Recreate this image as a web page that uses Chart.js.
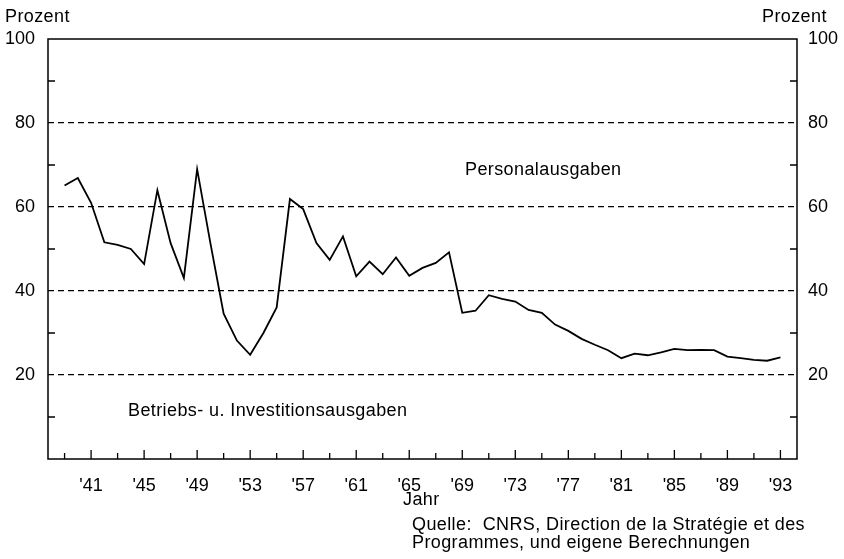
<!DOCTYPE html>
<html>
<head>
<meta charset="utf-8">
<script src="https://cdn.jsdelivr.net/npm/chart.js@4.4.1/dist/chart.umd.min.js"></script>
<style>
  body { margin: 0; background: #fff; }
  canvas { display: block; }
</style>
</head>
<body>
<canvas id="linechart" width="844" height="559"></canvas>
<script>
// Anteil der Personalausgaben am CNRS-Budget (Prozent), 1939-1993
var years = [1939, 1940, 1941, 1942, 1943, 1944, 1945, 1946, 1947, 1948,
             1949, 1950, 1951, 1952, 1953, 1954, 1955, 1956, 1957, 1958,
             1959, 1960, 1961, 1962, 1963, 1964, 1965, 1966, 1967, 1968,
             1969, 1970, 1971, 1972, 1973, 1974, 1975, 1976, 1977, 1978,
             1979, 1980, 1981, 1982, 1983, 1984, 1985, 1986, 1987, 1988,
             1989, 1990, 1991, 1992, 1993];
var personal = [65.1, 66.9, 61.0, 51.6, 51.0, 50.0, 46.4, 64.0, 51.4, 43.1,
                69.0, 51.4, 34.6, 28.2, 24.8, 30.0, 36.1, 61.9, 59.5, 51.4,
                47.4, 53.0, 43.5, 47.0, 44.0, 48.0, 43.6, 45.5, 46.7, 49.2,
                34.8, 35.3, 39.0, 38.1, 37.5, 35.5, 34.8, 32.0, 30.5, 28.6,
                27.2, 25.9, 24.0, 25.1, 24.7, 25.4, 26.2, 25.9, 26.0, 25.9,
                24.4, 24.0, 23.6, 23.4, 24.2];

var labelYears = [1941, 1945, 1949, 1953, 1957, 1961, 1965, 1969, 1973, 1977, 1981, 1985, 1989, 1993];
var xTickLabels = ["'41", "'45", "'49", "'53", "'57", "'61", "'65", "'69", "'73", "'77", "'81", "'85", "'89", "'93"];
var markYears = [1939, 1941, 1943, 1945, 1947, 1949, 1951, 1953, 1955, 1957, 1959, 1961, 1963, 1965,
                 1967, 1969, 1971, 1973, 1975, 1977, 1979, 1981, 1983, 1985, 1987, 1989, 1991, 1993];
var yTicks = [0, 20, 40, 60, 80, 100];
var yMinorTicks = [10, 30, 50, 70, 90];

var FONT = '"Liberation Sans", Arial, Helvetica, sans-serif';
Chart.defaults.font.family = FONT;
Chart.defaults.font.size = 18;
Chart.defaults.color = '#000';

// Rahmen, Tickmarken nach innen und Beschriftungen
var frame = {
  id: 'frame',
  afterDraw: function(chart) {
    var ctx = chart.ctx;
    var a = chart.chartArea;
    var xs = chart.scales.x;
    var ys = chart.scales.y;
    ctx.save();
    ctx.strokeStyle = '#000';
    ctx.lineWidth = 1.5;
    ctx.strokeRect(a.left, a.top, a.right - a.left, a.bottom - a.top);

    ctx.beginPath();
    markYears.forEach(function(v) {
      var px = xs.getPixelForValue(v);
      var len = labelYears.indexOf(v) >= 0 ? 9 : 6;
      ctx.moveTo(px, a.bottom);
      ctx.lineTo(px, a.bottom - len);
    });
    yMinorTicks.forEach(function(v) {
      var py = ys.getPixelForValue(v);
      ctx.moveTo(a.left, py);
      ctx.lineTo(a.left + 7, py);
      ctx.moveTo(a.right, py);
      ctx.lineTo(a.right - 7, py);
    });
    ctx.lineWidth = 1.3;
    ctx.stroke();

    ctx.fillStyle = '#000';
    ctx.font = '18px ' + FONT;
    ctx.letterSpacing = '0.4px';
    ctx.textAlign = 'left';
    ctx.textBaseline = 'alphabetic';
    ctx.fillText('Prozent', 5, 22);
    ctx.fillText('Prozent', 762, 22);
    ctx.fillText('Personalausgaben', 465, 175);
    ctx.fillText('Betriebs- u. Investitionsausgaben', 128, 416);
    ctx.fillText('Jahr', 403, 505);
    ctx.fillText('Quelle:  CNRS, Direction de la Stratégie et des', 412, 530);
    ctx.fillText('Programmes, und eigene Berechnungen', 412, 548);
    ctx.restore();
  }
};

new Chart(document.getElementById("linechart"), {
  type: 'line',
  data: {
    datasets: [{
      label: 'Personalausgaben',
      data: years.map(function(y, i) { return { x: y, y: personal[i] }; }),
      borderColor: '#000',
      borderWidth: 1.8,
      pointRadius: 0,
      tension: 0,
      fill: false
    }]
  },
  options: {
    responsive: false,
    animation: false,
    layout: { padding: { top: 39, left: 0, right: 0, bottom: 0 } },
    plugins: {
      legend: { display: false },
      tooltip: { enabled: false }
    },
    scales: {
      x: {
        type: 'linear',
        min: 1937.75,
        max: 1994.25,
        afterBuildTicks: function(s) {
          s.ticks = labelYears.map(function(v) { return { value: v }; });
        },
        afterFit: function(s) { s.height = 100; },
        ticks: {
          padding: 8,
          autoSkip: false,
          maxRotation: 0,
          callback: function(v) { return xTickLabels[labelYears.indexOf(v)]; }
        },
        grid: { display: false },
        border: { display: false }
      },
      y: {
        position: 'left',
        min: 0,
        max: 100,
        afterBuildTicks: function(s) {
          s.ticks = yTicks.map(function(v) { return { value: v }; });
        },
        afterFit: function(s) { s.width = 48; },
        ticks: {
          padding: 13,
          callback: function(v) { return v === 0 ? '' : v; }
        },
        grid: {
          drawTicks: false,
          lineWidth: 1.2,
          color: function(c) {
            var v = c.tick ? c.tick.value : 0;
            return (v > 0 && v < 100) ? '#000' : 'rgba(0,0,0,0)';
          }
        },
        border: { display: false, dash: [6, 4] }
      },
      y2: {
        position: 'right',
        min: 0,
        max: 100,
        afterBuildTicks: function(s) {
          s.ticks = yTicks.map(function(v) { return { value: v }; });
        },
        afterFit: function(s) { s.width = 47; },
        ticks: {
          padding: 11,
          callback: function(v) { return v === 0 ? '' : v; }
        },
        grid: { display: false, drawTicks: false },
        border: { display: false }
      }
    }
  },
  plugins: [frame]
});
</script>
</body>
</html>
